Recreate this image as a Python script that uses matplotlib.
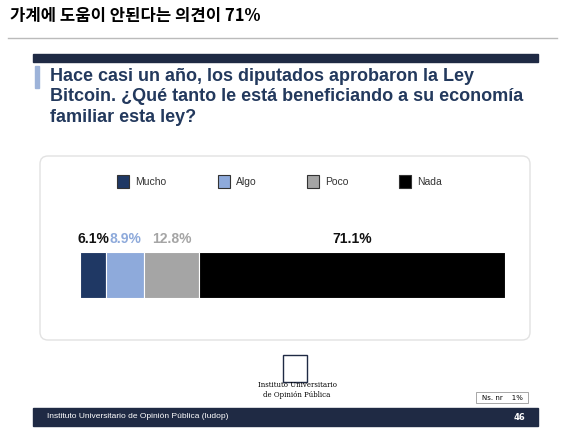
import matplotlib
matplotlib.use("Agg")
import matplotlib.pyplot as plt
from matplotlib.patches import Rectangle, FancyBboxPatch

categories = ["Mucho", "Algo", "Poco", "Nada"]
values = [6.1, 8.9, 12.8, 71.1]
colors = ["#1f3864", "#8eaadb", "#a5a5a5", "#000000"]
label_colors = ["#111111", "#8eaadb", "#a5a5a5", "#111111"]
NARROW = ["Liberation Sans Narrow", "Liberation Sans", "DejaVu Sans"]

W, H = 565, 438
fig = plt.figure(figsize=(W/100, H/100), dpi=100)
bg = fig.add_axes([0, 0, 1, 1])
bg.set_xlim(0, W); bg.set_ylim(H, 0); bg.axis("off")

bg.text(10, 16, "가계에 도움이 안된다는 의견이 71%", fontsize=12, fontweight="bold",
        family=["Noto Sans CJK KR", "DejaVu Sans"], va="center", ha="left")
bg.plot([8, 557], [38, 38], color="#bbbbbb", lw=1)

bg.add_patch(Rectangle((33, 54), 505, 8, color="#1f2a44"))
bg.add_patch(Rectangle((35, 66), 4, 22, color="#9db3d9"))
bg.text(50, 68, "Hace casi un año, los diputados aprobaron la Ley\nBitcoin. ¿Qué tanto le está beneficiando a su economía\nfamiliar esta ley?",
        fontsize=13, fontweight="bold", color="#23395d", va="top", ha="left",
        linespacing=1.25, family=NARROW)
bg.add_patch(FancyBboxPatch((40, 156), 490, 184, boxstyle="round,pad=0,rounding_size=8",
                            fc="white", ec="#e2e2e2", lw=1))
lx = [117, 218, 307, 399]
for x, c, cat in zip(lx, colors, categories):
    bg.add_patch(Rectangle((x, 175), 12, 13, fc=c, ec="#333333", lw=0.8))
    bg.text(x + 18, 182, cat, fontsize=7.5, va="center", ha="left", color="#333333",
            family=NARROW)

bg.add_patch(Rectangle((33, 408), 505, 18, color="#1f2a44"))
bg.text(47, 417, "Instituto Universitario de Opinión Pública (Iudop)", fontsize=6,
        color="white", va="center", family=NARROW)
bg.text(525, 417, "46", fontsize=6, color="white", va="center", ha="right", fontweight="bold")
bg.add_patch(Rectangle((476, 392), 52, 11, fc="white", ec="#999999", lw=0.6))
bg.text(502, 397.5, "Ns. nr    1%", fontsize=5, va="center", ha="center")
bg.text(297, 390, "Instituto Universitario\nde Opinión Pública", fontsize=5,
        family="serif", ha="center", va="center")
bg.add_patch(Rectangle((283, 355), 24, 27, fc="white", ec="#1f2a44", lw=1))

ax = fig.add_axes([80/W, 1 - 298/H, 425/W, 46/H])
left = 0
for v, c, lc in zip(values, colors, label_colors):
    ax.barh(0, v, left=left, color=c, height=1, edgecolor="white", linewidth=0.8)
    ax.text(left + v/2, 0.78, f"{v}%", ha="center", va="center", fontsize=10,
            fontweight="bold", color=lc, clip_on=False, family=NARROW)
    left += v
ax.set_xlim(0, sum(values)); ax.set_ylim(-0.5, 0.5)
ax.axis("off")
fig.savefig("out.png", dpi=100)
